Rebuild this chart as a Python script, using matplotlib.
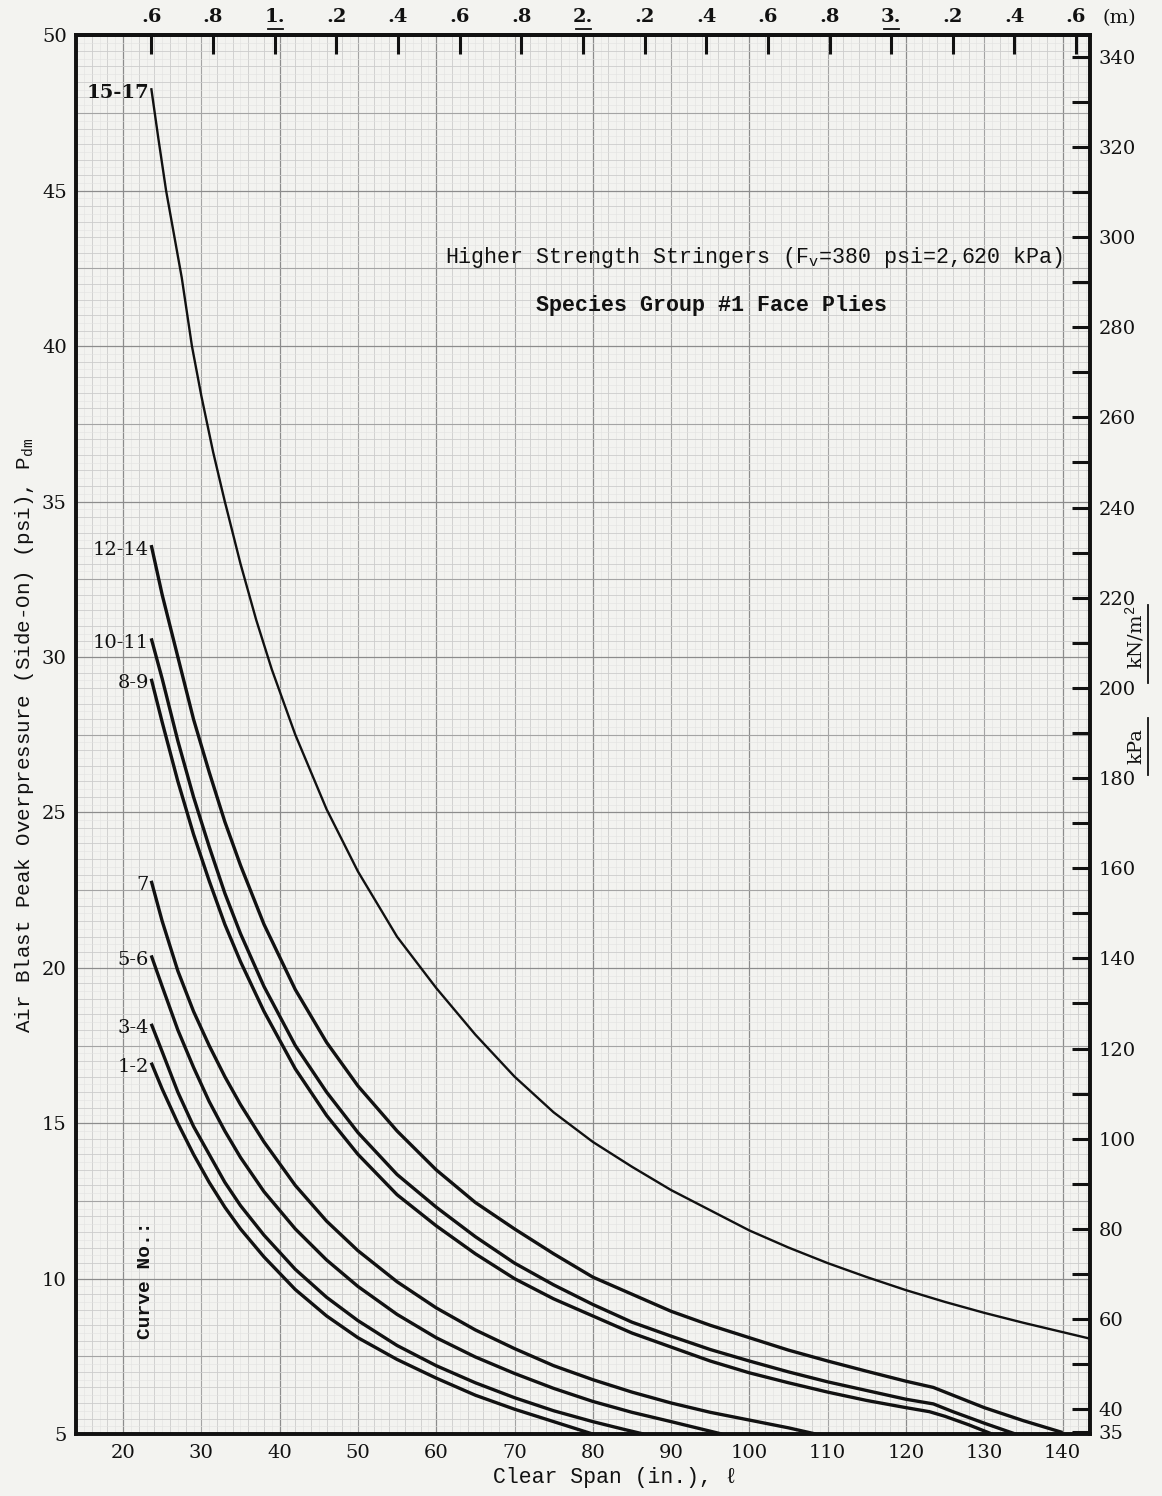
import matplotlib
matplotlib.use("Agg")
import matplotlib.pyplot as plt
import matplotlib.transforms as mtransforms
from matplotlib.lines import Line2D

# values: clear span (in.) vs overpressure (psi)
span_1_2 = [23.6, 25, 27, 29, 31, 33, 35, 38, 42, 46, 50, 55, 60, 65, 70, 75, 80]
psi_1_2 = [16.95, 16.1, 15.0, 14.0, 13.1, 12.3, 11.6, 10.7, 9.65, 8.8, 8.1, 7.4, 6.8,
           6.25, 5.8, 5.4, 5.0]

span_3_4 = [23.6, 25, 27, 29, 31, 33, 35, 38, 42, 46, 50, 55, 60, 65, 70, 75, 80, 84, 86.5]
psi_3_4 = [18.2, 17.3, 16.0, 14.9, 14.0, 13.1, 12.35, 11.4, 10.3, 9.4, 8.65, 7.85, 7.2,
           6.65, 6.17, 5.75, 5.4, 5.15, 5.0]

span_5_6 = [23.6, 25, 27, 29, 31, 33, 35, 38, 42, 46, 50, 55, 60, 65, 70, 75, 80, 85, 90, 96.5]
psi_5_6 = [20.4, 19.4, 18.0, 16.8, 15.7, 14.75, 13.9, 12.8, 11.6, 10.6, 9.75, 8.85, 8.1,
           7.48, 6.95, 6.47, 6.05, 5.7, 5.4, 5.0]

span_7 = [23.6, 25, 27, 29, 31, 33, 35, 38, 42, 46, 50, 55, 60, 65, 70, 75, 80, 85, 90,
          95, 100, 105, 108.5]
psi_7 = [22.8, 21.5, 19.9, 18.6, 17.5, 16.5, 15.6, 14.4, 13.0, 11.85, 10.9, 9.9, 9.06,
         8.35, 7.75, 7.2, 6.75, 6.35, 6.0, 5.7, 5.45, 5.2, 5.0]

span_8_9 = [23.6, 25, 27, 29, 31, 33, 35, 38, 42, 46, 50, 55, 60, 65, 70, 75, 80, 85, 90,
            95, 100, 105, 110, 115, 120, 123, 125, 128, 131]
psi_8_9 = [29.3, 27.9, 26.0, 24.3, 22.8, 21.4, 20.2, 18.6, 16.75, 15.25, 14.0, 12.7, 11.7,
           10.8, 10.0, 9.35, 8.8, 8.25, 7.8, 7.35, 6.97, 6.65, 6.35, 6.08, 5.85, 5.72,
           5.57, 5.3, 5.0]

span_10_11 = [23.6, 25, 27, 29, 31, 33, 35, 38, 42, 46, 50, 55, 60, 65, 70, 75, 80, 85,
              90, 95, 100, 105, 110, 115, 120, 123.5, 126, 130, 134]
psi_10_11 = [30.6, 29.3, 27.3, 25.5, 23.9, 22.4, 21.1, 19.4, 17.5, 16.0, 14.7, 13.35,
             12.3, 11.35, 10.5, 9.8, 9.17, 8.6, 8.15, 7.72, 7.35, 7.0, 6.68, 6.4, 6.12,
             5.97, 5.72, 5.35, 5.0]

span_12_14 = [23.6, 25, 27, 29, 31, 33, 35, 38, 42, 46, 50, 55, 60, 65, 70, 75, 80, 85,
              90, 95, 100, 105, 110, 115, 120, 123.5, 127, 130, 135, 140]
psi_12_14 = [33.6, 32.0, 30.0, 28.0, 26.3, 24.7, 23.3, 21.4, 19.3, 17.6, 16.2, 14.75,
             13.5, 12.45, 11.6, 10.8, 10.05, 9.5, 8.95, 8.5, 8.1, 7.7, 7.35, 7.02, 6.7,
             6.5, 6.15, 5.85, 5.43, 5.05]

span_15_17 = [23.6, 24.5, 25.5, 26.5, 27.5, 28.8, 30, 31.5, 33, 35, 37, 39, 42, 46, 50,
              55, 60, 65, 70, 75, 80, 85, 90, 95, 100, 105, 110, 115, 120, 125, 130, 135,
              140, 143.5]
psi_15_17 = [48.3, 46.7, 45.0, 43.6, 42.2, 40.0, 38.4, 36.6, 35.0, 33.0, 31.2, 29.6, 27.5,
             25.1, 23.1, 21.0, 19.35, 17.85, 16.5, 15.35, 14.4, 13.6, 12.85, 12.2, 11.55,
             11.0, 10.5, 10.05, 9.63, 9.25, 8.9, 8.58, 8.28, 8.07]

curve_names = ["1-2", "3-4", "5-6", "7", "8-9", "10-11", "12-14", "15-17"]
curve_spans = [span_1_2, span_3_4, span_5_6, span_7, span_8_9, span_10_11, span_12_14, span_15_17]
curve_psi = [psi_1_2, psi_3_4, psi_5_6, psi_7, psi_8_9, psi_10_11, psi_12_14, psi_15_17]

x_ticks = [20, 30, 40, 50, 60, 70, 80, 90, 100, 110, 120, 130, 140]
y_ticks = [5, 10, 15, 20, 25, 30, 35, 40, 45, 50]
kpa_labeled = [35, 40, 60, 80, 100, 120, 140, 160, 180, 200, 220, 240, 260, 280, 300, 320, 340]
kpa_minor = [50, 70, 90, 110, 130, 150, 170, 190, 210, 230, 250, 270, 290, 310, 330]
m_ticks = [0.6, 0.8, 1.0, 1.2, 1.4, 1.6, 1.8, 2.0, 2.2, 2.4, 2.6, 2.8, 3.0, 3.2, 3.4, 3.6]
m_labels = [".6", ".8", "1.", ".2", ".4", ".6", ".8", "2.", ".2", ".4", ".6", ".8", "3.", ".2", ".4", ".6"]

PSI_TO_KPA = 6.895
paper = "#f3f3f0"
ink = "#111111"
serif = ["DejaVu Serif"]
mono = ["Liberation Mono", "DejaVu Sans Mono"]

plt.rcParams["mathtext.fontset"] = "custom"
plt.rcParams["mathtext.rm"] = "Liberation Mono"
plt.rcParams["mathtext.bf"] = "Liberation Mono:bold"

fig = plt.figure(figsize=(11.62, 14.96), dpi=100, facecolor=paper)
ax = fig.add_axes([0.0658, 0.0414, 0.8722, 0.935], facecolor=paper)
ax.set_xlim(14.05, 143.5)
ax.set_ylim(5, 50)


def grid_style(k, big, mid, small):
    # graph paper: heavier every big step, then mid, then small, faint otherwise
    if k % big == 0:
        return "#8c8c8c", 0.9
    if k % mid == 0:
        return "#a4a4a4", 0.8
    if k % small == 0:
        return "#cccccc", 0.6
    return "#e2e2e0", 0.4


for x in range(15, 144):
    c, lw = grid_style(x, 20, 10, 2)
    ax.axvline(x, color=c, lw=lw, zorder=0)
for k in range(21, 200):
    c, lw = grid_style(k, 20, 10, 2)
    ax.axhline(k / 4, color=c, lw=lw, zorder=0)

# curves and their labels
for name, xs, ys in zip(curve_names, curve_spans, curve_psi):
    lw = 1.7 if name == "15-17" else 2.4
    ax.plot(xs, ys, color=ink, lw=lw, solid_capstyle="butt", solid_joinstyle="round", zorder=3)
    ax.text(xs[0] - 0.3, ys[0] - 0.15, name, ha="right", va="center", fontsize=14,
            family=serif, fontweight="bold" if name == "15-17" else "normal", color=ink)

ax.set_xticks(x_ticks)
ax.set_yticks(y_ticks)
ax.tick_params(axis="both", length=0, labelsize=14, pad=7, colors=ink)
for lab in ax.get_xticklabels() + ax.get_yticklabels():
    lab.set_family(serif)
for s in ax.spines.values():
    s.set_linewidth(2.6)
    s.set_color(ink)

# right axis in kPa
ax2 = ax.twinx()
ax2.set_ylim(5 * PSI_TO_KPA, 50 * PSI_TO_KPA)
ax2.set_yticks(kpa_labeled)
ax2.set_yticks(kpa_minor, minor=True)
ax2.tick_params(axis="y", which="both", direction="in", length=13, width=2.2, colors=ink)
ax2.tick_params(axis="y", which="major", labelsize=14, pad=6)
for lab in ax2.get_yticklabels():
    lab.set_family(serif)
for s in ax2.spines.values():
    s.set_linewidth(2.6)
    s.set_color(ink)

# top axis in metres
secax = ax.secondary_xaxis("top", functions=(lambda v: v * 0.0254, lambda v: v / 0.0254))
secax.set_xticks(m_ticks)
secax.set_xticklabels(m_labels)
secax.tick_params(direction="in", length=14, width=2.2, labelsize=14, pad=7, colors=ink)
for lab in secax.get_xticklabels():
    lab.set_family(serif)
    lab.set_fontweight("bold")
secax.spines["top"].set_linewidth(2.6)
bt = mtransforms.blended_transform_factory(ax.transData, fig.transFigure)
for m, lab in zip(m_ticks, m_labels):
    if lab[0] != ".":
        xin = m / 0.0254
        ax.add_line(Line2D([xin - 0.9, xin + 1.0], [1 - 29 / 1496] * 2, transform=bt,
                           color=ink, lw=1.3, clip_on=False))
fig.text(1103 / 1162, 1 - 18 / 1496, "(m)", ha="left", va="center", fontsize=14,
         family=serif, color=ink)

# axis titles
fig.text(25 / 1162, 1 - 735 / 1496,
         r"Air Blast Peak Overpressure (Side-On) (psi), P$_{\rm dm}$",
         rotation=90, ha="center", va="center", fontsize=15, family=mono, color=ink)
fig.text(615 / 1162, 1 - 1478 / 1496, "Clear Span (in.), ℓ", ha="center", va="center",
         fontsize=15.5, family=mono, color=ink)
fig.text(1136 / 1162, 1 - 637 / 1496, r"kN/m$^2$", rotation=90, ha="center", va="center",
         fontsize=14, family=serif, color=ink)
fig.text(1136 / 1162, 1 - 746 / 1496, "kPa", rotation=90, ha="center", va="center",
         fontsize=14, family=serif, color=ink)
fig.add_artist(Line2D([1148 / 1162] * 2, [1 - 683 / 1496, 1 - 605 / 1496], color=ink, lw=1.3))
fig.add_artist(Line2D([1148 / 1162] * 2, [1 - 775 / 1496, 1 - 718 / 1496], color=ink, lw=1.3))

# notes on the chart
fig.text(754 / 1162, 1 - 258 / 1496,
         r"Higher Strength Stringers (F$_{\rm v}$=380 psi=2,620 kPa)",
         ha="center", va="center", fontsize=15.6, family=mono, color=ink)
fig.text(712 / 1162, 1 - 305 / 1496, "Species Group #1 Face Plies", ha="center",
         va="center", fontsize=15.6, family=mono, fontweight="bold", color=ink)
fig.text(145 / 1162, 1 - 1280 / 1496, "Curve No.:", rotation=90, ha="center",
         va="center", fontsize=14, family=mono, fontweight="bold", color=ink)

fig.savefig("out.png", dpi=100, facecolor=paper)
